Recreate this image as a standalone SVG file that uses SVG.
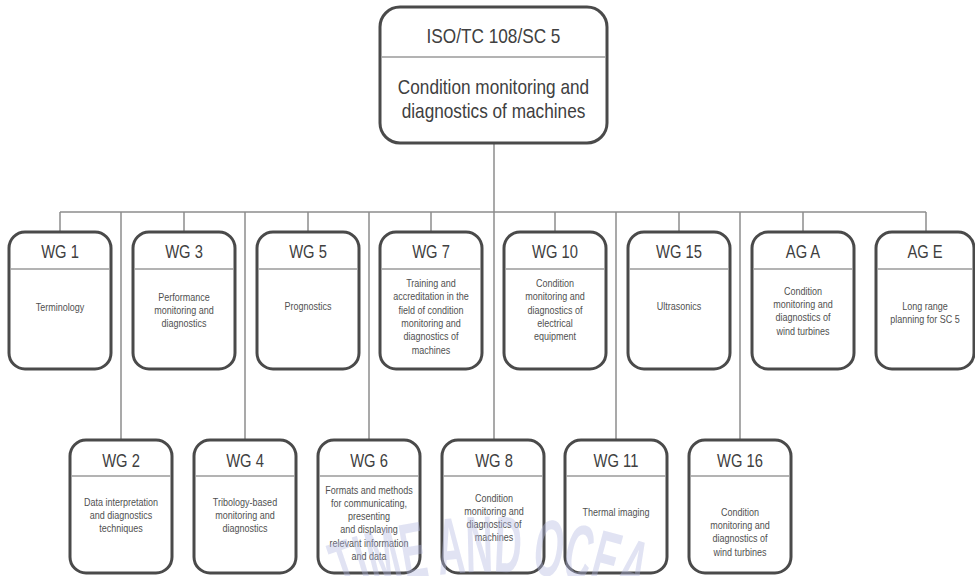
<svg xmlns="http://www.w3.org/2000/svg" width="975" height="576" viewBox="0 0 975 576">
<defs>
<style>
.box{fill:#fff;stroke:#4a4a4a;stroke-width:3}
.div{stroke:#9a9a9a;stroke-width:1.5}
.ln{stroke:#8c8c8c;stroke-width:1.5;fill:none}
.hd{font-family:"Liberation Sans",Arial,sans-serif;font-size:18px;fill:#404040;text-anchor:middle}
.tt{font-family:"Liberation Sans",Arial,sans-serif;font-size:21px;fill:#404040;text-anchor:middle}
.bd{font-family:"Liberation Sans",Arial,sans-serif;font-size:11px;fill:#505050;text-anchor:middle}
.wm{font-family:"Liberation Sans",Arial,sans-serif;font-size:80px;font-weight:bold;fill:#b4b8e2;fill-opacity:0.4}
</style>
<path id="arc" d="M 188 700 A 420 420 0 0 1 792 700" fill="none"/>
</defs>
<rect width="975" height="576" fill="#fff"/>
<g id="connectors">
<line class="ln" x1="60" y1="212" x2="926" y2="212"/>
<line class="ln" x1="494" y1="143" x2="494" y2="440"/>
<line class="ln" x1="60" y1="212" x2="60" y2="232"/>
<line class="ln" x1="184" y1="212" x2="184" y2="232"/>
<line class="ln" x1="308" y1="212" x2="308" y2="232"/>
<line class="ln" x1="431" y1="212" x2="431" y2="232"/>
<line class="ln" x1="555" y1="212" x2="555" y2="232"/>
<line class="ln" x1="679" y1="212" x2="679" y2="232"/>
<line class="ln" x1="803" y1="212" x2="803" y2="232"/>
<line class="ln" x1="926" y1="212" x2="926" y2="232"/>
<line class="ln" x1="121" y1="212" x2="121" y2="440"/>
<line class="ln" x1="245" y1="212" x2="245" y2="440"/>
<line class="ln" x1="369" y1="212" x2="369" y2="440"/>
<line class="ln" x1="616" y1="212" x2="616" y2="440"/>
<line class="ln" x1="740" y1="212" x2="740" y2="440"/>
</g>
<g id="sc5">
<rect class="box" x="380" y="7" width="227" height="136" rx="20"/>
<line class="div" x1="381.5" y1="57" x2="605.5" y2="57"/>
<g transform="matrix(0.82 0 0 1 493.5 0)">
<text class="tt" x="0" y="43">ISO/TC 108/SC 5</text>
<text class="tt" x="0" y="94">Condition monitoring and</text>
<text class="tt" x="0" y="118">diagnostics of machines</text>
</g>
</g>
<g id="wg1">
<rect class="box" x="9" y="232" width="102" height="137" rx="16"/>
<line class="div" x1="10.5" y1="269" x2="109.5" y2="269"/>
<g transform="matrix(0.82 0 0 1 60 0)">
<text class="hd" x="0" y="258">WG 1</text>
<text class="bd" x="0" y="311">Terminology</text>
</g>
</g>
<g id="wg3">
<rect class="box" x="133" y="232" width="102" height="137" rx="16"/>
<line class="div" x1="134.5" y1="269" x2="233.5" y2="269"/>
<g transform="matrix(0.82 0 0 1 184 0)">
<text class="hd" x="0" y="258">WG 3</text>
<text class="bd" x="0" y="301">Performance</text>
<text class="bd" x="0" y="314">monitoring and</text>
<text class="bd" x="0" y="327">diagnostics</text>
</g>
</g>
<g id="wg5">
<rect class="box" x="257" y="232" width="102" height="137" rx="16"/>
<line class="div" x1="258.5" y1="269" x2="357.5" y2="269"/>
<g transform="matrix(0.82 0 0 1 308 0)">
<text class="hd" x="0" y="258">WG 5</text>
<text class="bd" x="0" y="310">Prognostics</text>
</g>
</g>
<g id="wg7">
<rect class="box" x="380" y="232" width="102" height="137" rx="16"/>
<line class="div" x1="381.5" y1="269" x2="480.5" y2="269"/>
<g transform="matrix(0.82 0 0 1 431 0)">
<text class="hd" x="0" y="258">WG 7</text>
<text class="bd" x="0" y="287">Training and</text>
<text class="bd" x="0" y="300.5">accreditation in the</text>
<text class="bd" x="0" y="314">field of condition</text>
<text class="bd" x="0" y="327">monitoring and</text>
<text class="bd" x="0" y="340.5">diagnostics of</text>
<text class="bd" x="0" y="354">machines</text>
</g>
</g>
<g id="wg10">
<rect class="box" x="504" y="232" width="102" height="137" rx="16"/>
<line class="div" x1="505.5" y1="269" x2="604.5" y2="269"/>
<g transform="matrix(0.82 0 0 1 555 0)">
<text class="hd" x="0" y="258">WG 10</text>
<text class="bd" x="0" y="287">Condition</text>
<text class="bd" x="0" y="300.5">monitoring and</text>
<text class="bd" x="0" y="314">diagnostics of</text>
<text class="bd" x="0" y="327">electrical</text>
<text class="bd" x="0" y="340.5">equipment</text>
</g>
</g>
<g id="wg15">
<rect class="box" x="628" y="232" width="102" height="137" rx="16"/>
<line class="div" x1="629.5" y1="269" x2="728.5" y2="269"/>
<g transform="matrix(0.82 0 0 1 679 0)">
<text class="hd" x="0" y="258">WG 15</text>
<text class="bd" x="0" y="310">Ultrasonics</text>
</g>
</g>
<g id="aga">
<rect class="box" x="752" y="232" width="102" height="137" rx="16"/>
<line class="div" x1="753.5" y1="269" x2="852.5" y2="269"/>
<g transform="matrix(0.82 0 0 1 803 0)">
<text class="hd" x="0" y="258">AG A</text>
<text class="bd" x="0" y="295">Condition</text>
<text class="bd" x="0" y="308">monitoring and</text>
<text class="bd" x="0" y="321.5">diagnostics of</text>
<text class="bd" x="0" y="335">wind turbines</text>
</g>
</g>
<g id="age">
<rect class="box" x="876" y="232" width="98" height="137" rx="16"/>
<line class="div" x1="877.5" y1="269" x2="972.5" y2="269"/>
<g transform="matrix(0.82 0 0 1 925 0)">
<text class="hd" x="0" y="258">AG E</text>
<text class="bd" x="0" y="310">Long range</text>
<text class="bd" x="0" y="323">planning for SC 5</text>
</g>
</g>
<g id="wg2">
<rect class="box" x="70" y="440" width="102" height="133" rx="16"/>
<line class="div" x1="71.5" y1="476" x2="170.5" y2="476"/>
<g transform="matrix(0.82 0 0 1 121 0)">
<text class="hd" x="0" y="467">WG 2</text>
<text class="bd" x="0" y="506">Data interpretation</text>
<text class="bd" x="0" y="519">and diagnostics</text>
<text class="bd" x="0" y="532">techniques</text>
</g>
</g>
<g id="wg4">
<rect class="box" x="194" y="440" width="102" height="133" rx="16"/>
<line class="div" x1="195.5" y1="476" x2="294.5" y2="476"/>
<g transform="matrix(0.82 0 0 1 245 0)">
<text class="hd" x="0" y="467">WG 4</text>
<text class="bd" x="0" y="506">Tribology-based</text>
<text class="bd" x="0" y="519">monitoring and</text>
<text class="bd" x="0" y="532">diagnostics</text>
</g>
</g>
<g id="wg6">
<rect class="box" x="318" y="440" width="102" height="133" rx="16"/>
<line class="div" x1="319.5" y1="476" x2="418.5" y2="476"/>
<g transform="matrix(0.82 0 0 1 369 0)">
<text class="hd" x="0" y="467">WG 6</text>
<text class="bd" x="0" y="494">Formats and methods</text>
<text class="bd" x="0" y="507">for communicating,</text>
<text class="bd" x="0" y="520">presenting</text>
<text class="bd" x="0" y="533.5">and displaying</text>
<text class="bd" x="0" y="547">relevant information</text>
<text class="bd" x="0" y="560">and data</text>
</g>
</g>
<g id="wg8">
<rect class="box" x="442" y="440" width="102" height="133" rx="16"/>
<line class="div" x1="443.5" y1="476" x2="542.5" y2="476"/>
<g transform="matrix(0.82 0 0 1 494 0)">
<text class="hd" x="0" y="467">WG 8</text>
<text class="bd" x="0" y="502">Condition</text>
<text class="bd" x="0" y="515">monitoring and</text>
<text class="bd" x="0" y="528">diagnostics of</text>
<text class="bd" x="0" y="541">machines</text>
</g>
</g>
<g id="wg11">
<rect class="box" x="565" y="440" width="102" height="133" rx="16"/>
<line class="div" x1="566.5" y1="476" x2="665.5" y2="476"/>
<g transform="matrix(0.82 0 0 1 616 0)">
<text class="hd" x="0" y="467">WG 11</text>
<text class="bd" x="0" y="516">Thermal imaging</text>
</g>
</g>
<g id="wg16">
<rect class="box" x="689" y="440" width="102" height="133" rx="16"/>
<line class="div" x1="690.5" y1="476" x2="789.5" y2="476"/>
<g transform="matrix(0.82 0 0 1 740 0)">
<text class="hd" x="0" y="467">WG 16</text>
<text class="bd" x="0" y="516">Condition</text>
<text class="bd" x="0" y="529">monitoring and</text>
<text class="bd" x="0" y="542">diagnostics of</text>
<text class="bd" x="0" y="556">wind turbines</text>
</g>
</g>
<g id="watermark">
<text class="wm"><textPath href="#arc" startOffset="50%" text-anchor="middle" textLength="300" lengthAdjust="spacingAndGlyphs">TIME AND OCEA</textPath></text>
</g>
</svg>
